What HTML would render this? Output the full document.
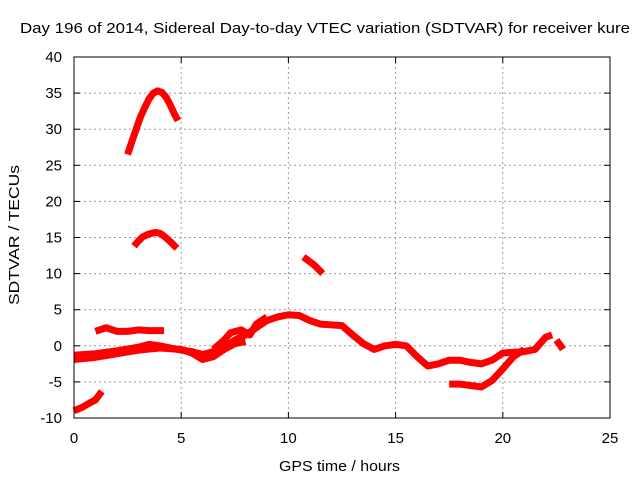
<!DOCTYPE html>
<html><head><meta charset="utf-8"><style>
body{margin:0;background:#fff;}
svg{display:block;font-family:"Liberation Sans",sans-serif;}
</style></head><body>
<svg id="chart" width="640" height="480" viewBox="0 0 640 480">
<text x="20" y="33" font-size="15" textLength="610" lengthAdjust="spacingAndGlyphs">Day 196 of 2014, Sidereal Day-to-day VTEC variation (SDTVAR) for receiver kure</text>
<g id="grid"></g>
<g id="ticks"></g>
<g id="series"></g>
<rect x="74" y="57" width="536" height="361" fill="none" stroke="#000" stroke-width="1"/>
<text x="279" y="471" font-size="15" textLength="121" lengthAdjust="spacingAndGlyphs">GPS time / hours</text>
<text transform="translate(19,305) rotate(-90)" font-size="15" textLength="140" lengthAdjust="spacingAndGlyphs">SDTVAR / TECUs</text>
</svg>
<script>
const xTicks=[0,5,10,15,20,25];
const yTicks=[-10,-5,0,5,10,15,20,25,30,35,40];
const arcTop=[[2.5,26.5],[2.7,28.3],[2.9,30],[3.1,31.7],[3.3,33],[3.5,34.2],[3.7,35],[3.9,35.3],[4.1,35.1],[4.3,34.4],[4.5,33.3],[4.7,32],[4.85,31.2]];
const arcMid=[[2.8,13.8],[3.0,14.5],[3.2,15.1],[3.5,15.5],[3.8,15.7],[4.0,15.6],[4.2,15.2],[4.5,14.4],[4.8,13.5]];
const seg11=[[10.7,12.3],[11.2,11.2],[11.6,10]];
const seg2=[[1.0,2],[1.5,2.5],[1.7,2.3],[2.0,2],[2.5,2],[3,2.2],[3.5,2.1],[4.2,2.1]];
const segLow=[[0,-9],[0.4,-8.5],[0.8,-7.8],[1.0,-7.5],[1.3,-6.3]];
const mainBand=[[0,-1.3],[1,-1.1],[2,-0.7],[3,-0.2],[3.5,0.2],[4,0],[4.8,-0.5],[5.5,-0.8],[6,-1.2],[6.5,-0.8],[7,-0.3],[7.5,0.8],[8,1.5],[8.5,2.5],[9,3.5],[9.5,4],[10,4.3],[10.5,4.2],[11,3.5],[11.5,3],[12.5,2.8],[13,1.5],[13.5,0.3],[14,-0.5],[14.5,0],[15,0.2],[15.5,0],[16,-1.5],[16.5,-2.8],[17,-2.5],[17.5,-2],[18,-2],[18.5,-2.3],[19,-2.5],[19.5,-2],[20,-1],[21,-0.8],[21.5,-0.5],[22,1.2],[22.3,1.5]];
const lowerBand=[[0,-1.9],[1,-1.6],[2,-1.1],[3,-0.6],[4,-0.3],[5,-0.5],[5.5,-1],[6,-1.9],[6.5,-1.5],[7,-0.5],[7.5,0.3],[8,0.6]];
const strand=[[6.5,-0.5],[7,0.8],[7.3,1.8],[7.8,2.2],[8.2,1.5],[8.5,3],[9,4]];
const dip=[[17.5,-5.3],[18,-5.3],[18.5,-5.5],[19,-5.7],[19.5,-4.8],[20,-3.2],[20.5,-1.5],[21,-0.5]];
const stub=[[22.5,0.8],[22.7,0],[22.8,-0.5]];
const allSeries=[arcTop,arcMid,seg11,seg2,segLow,mainBand,lowerBand,strand,dip,stub];
const X=h=>74+h*536/25, Y=v=>57+(40-v)*361/50;
const NS="http://www.w3.org/2000/svg";
const grid=document.getElementById('grid'),ticks=document.getElementById('ticks'),ser=document.getElementById('series');
function mk(tag,attrs,parent){const e=document.createElementNS(NS,tag);for(const k in attrs)e.setAttribute(k,attrs[k]);parent.appendChild(e);return e;}
xTicks.forEach(t=>{const x=X(t);
 if(t>0&&t<25){const g=mk('line',{x1:x,x2:x,y1:57,y2:418,stroke:'#999','stroke-dasharray':'2,3'},grid);}
 mk('line',{x1:x,x2:x,y1:418,y2:412,stroke:'#000'},ticks);mk('line',{x1:x,x2:x,y1:57,y2:63,stroke:'#000'},ticks);
 const tx=mk('text',{x:x,y:443,'font-size':15,'text-anchor':'middle'},ticks);tx.textContent=t;
 });
yTicks.forEach(t=>{const y=Y(t);
 if(t>-10&&t<40){const g=mk('line',{x1:74,x2:610,y1:y,y2:y,stroke:'#999','stroke-dasharray':'2,3'},grid);}
 mk('line',{x1:74,x2:80,y1:y,y2:y,stroke:'#000'},ticks);mk('line',{x1:604,x2:610,y1:y,y2:y,stroke:'#000'},ticks);
 const tx=mk('text',{x:62,y:y+5,'font-size':15,'text-anchor':'end'},ticks);tx.textContent=t;
 });
allSeries.forEach((s,i)=>{
 const p=mk('polyline',{points:s.map(d=>X(d[0])+','+Y(d[1])).join(' '),fill:'none',stroke:'#f00','stroke-width':7,'stroke-linejoin':'round','stroke-linecap':'butt'},ser);
 
 });
</script>
</body></html>
